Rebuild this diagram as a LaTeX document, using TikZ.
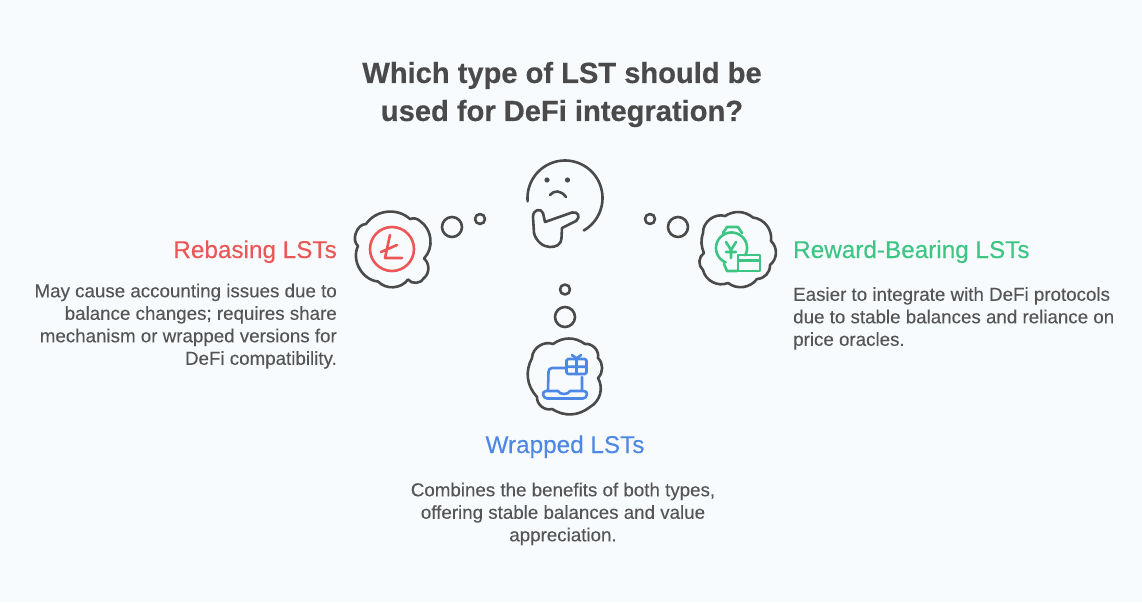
\documentclass[tikz,border=0pt]{standalone}
\usepackage{fontspec}
\setmainfont{Liberation Sans}[BoldFeatures={FakeBold=0.5}]
\newfontfamily\softbold{Liberation Sans}[FakeBold=0.2]
\definecolor{bg}{HTML}{F8FBFD}
\definecolor{ink}{HTML}{4A4A4A}
\definecolor{bodyink}{HTML}{555555}
\definecolor{redc}{HTML}{EB5757}
\definecolor{greenc}{HTML}{3CC583}
\definecolor{bluec}{HTML}{4E88E7}
\tikzset{
  outline/.style={draw=ink,line width=2.6pt,line cap=round,line join=round},
  icon/.style={line width=2.6pt,line cap=round,line join=round},
  ttl/.style={text=ink,align=center,font=\fontsize{29.1}{38}\selectfont\bfseries,inner sep=0pt},
  head/.style={font=\softbold\fontsize{24.3}{28}\selectfont,inner sep=0pt},
  body/.style={text=bodyink,font=\softbold\fontsize{18.75}{22.5}\selectfont,inner sep=0pt},
}
\begin{document}
\begin{tikzpicture}[x=1pt,y=-1pt]
\fill[bg] (0,0) rectangle (1142,602);
\useasboundingbox (0,0) rectangle (1142,602);
\node[ttl] (title) at (562,94.5) {Which type of LST should be\\used for DeFi integration?};
% thinking face
\draw[outline] plot[domain=175:420,samples=80] ({565+37.5*cos(\x)},{198+37.5*sin(\x)});
\fill[ink] (547,180) circle (2.6) (567.5,180) circle (2.6);
\draw[outline] (550,195) .. controls (554,190) and (561,190) .. (566,197);
\draw[outline] (545,222) -- (572,212.5) .. controls (578,211) and (581,217) .. (576,221)
  -- (562,228) -- (561.5,238) .. controls (561,245) and (556,247) .. (550,247)
  .. controls (543,247) and (536,241) .. (534,233) -- (533,217)
  .. controls (533,209) and (541,208) .. (543,213) -- cycle;
% bubbles
\draw[outline] (452,227) circle (10) (480,219) circle (5);
\draw[outline] (650,219) circle (5) (678,227) circle (10);
\draw[outline] (565,289.5) circle (5) (565,317) circle (10);
% left cloud
\draw[outline] (358,246) to[bend left=70] (366,224) to[bend left=49] (410,219)
  to[bend left=30] (420,221) to[bend left=50] (424,258.5) to[bend left=50] (424,278)
  to[bend left=60] (408,279.5) to[bend left=50] (378,281.5) to[bend left=55] cycle;
\draw[redc,icon] (392,249) circle (22);
\draw[redc,icon] (390,235) -- (385,258) -- (402,258) (381,252) -- (397,245);
% right cloud
\draw[outline] (703,233) to[bend left=55] (725,216) to[bend left=35] (753,217.5)
  to[bend left=45] (771,241) to[bend left=50] (770,265) to[bend left=45] (757,279)
  to[bend left=45] (728,283) to[bend left=50] (703,270) to[bend left=55] (704,253)
  to[bend left=20] cycle;
\draw[greenc,icon] plot[domain=28:-248,samples=60] ({731.5+15.5*cos(\x)},{248+15.5*sin(\x)});
\draw[greenc,icon] (724,264) -- (727,271) -- (737,271);
\draw[greenc,icon] (723,233) -- (727,227) -- (738,227) -- (742,233);
\draw[greenc,icon,line width=2.4pt] (738,255) rectangle (760,271) (738,260.5) -- (760,260.5);
\draw[greenc,icon] (726,242) -- (731,250) -- (736,242) (731,250) -- (731,258) (726,252) -- (736,252);
% bottom cloud
\draw[outline] (532,358) to[bend left=55] (553,344) to[bend left=36] (585,344)
  to[bend left=55] (598,358) to[bend left=45] (598,378) to[bend left=45] (590,407)
  to[bend left=35] (552,409) to[bend left=55] (537,397) to[bend left=35] cycle;
\draw[bluec,icon] (548,390) -- (548.5,372) .. controls (548.5,369.5) and (550,368) .. (552,368) -- (566,368)
  (582,377) -- (582,390);
\draw[bluec,icon] (546,391) -- (558,391) .. controls (560,395) and (568,395) .. (570,391) -- (584,391)
  .. controls (589,391) and (587,398.5) .. (583,398.5) -- (547,398.5)
  .. controls (543,398.5) and (541,391) .. (546,391) -- cycle;
\draw[bluec,icon,rounded corners=1.5pt] (566.5,359) rectangle (586.5,374);
\draw[bluec,icon] (566.5,366.7) -- (586.5,366.7) (576.5,359) -- (576.5,374)
  (572,355) -- (576.5,358.5) -- (581,355);
% texts
\node[head,text=redc,anchor=base east] (h1) at (337,258) {Rebasing LSTs};
\node[body,anchor=north east,align=right] (b1) at (337,283.5) {May cause accounting issues due to\\balance changes; requires share\\mechanism or wrapped versions for\\DeFi compatibility.};
\node[head,text=greenc,anchor=base west] (h2) at (793,258) {Reward-Bearing LSTs};
\node[body,anchor=north west,align=left] (b2) at (793,287) {Easier to integrate with DeFi protocols\\due to stable balances and reliance on\\price oracles.};
\node[head,text=bluec,anchor=base] (h3) at (565,453) {Wrapped LSTs};
\node[body,anchor=north,align=center] (b3) at (563,482.5) {Combines the benefits of both types,\\offering stable balances and value\\appreciation.};
\end{tikzpicture}
\end{document}
